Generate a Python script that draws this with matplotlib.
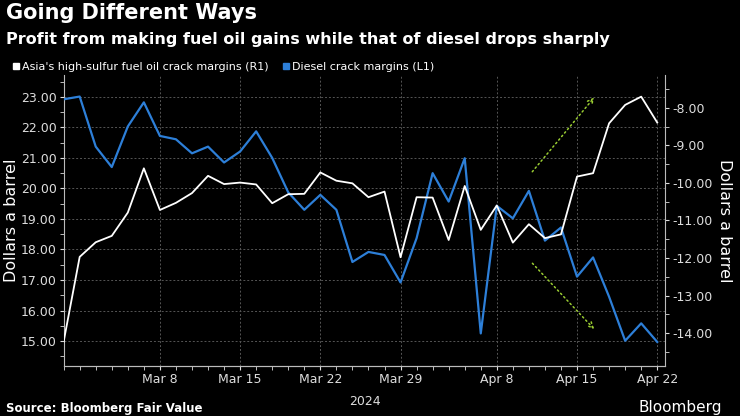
import matplotlib
matplotlib.use("Agg")
import matplotlib.pyplot as plt
from matplotlib.lines import Line2D

diesel = [22.92, 23.01, 21.37, 20.70, 22.03, 22.82, 21.72, 21.61, 21.15, 21.37,
          20.85, 21.21, 21.87, 21.00, 19.87, 19.30, 19.79, 19.30, 17.59, 17.92,
          17.82, 16.92, 18.37, 20.50, 19.57, 20.99, 15.25, 19.43, 19.02, 19.92,
          18.29, 18.72, 17.11, 17.74, 16.45, 15.01, 15.58, 14.97]
hsfo = [-14.23, -11.97, -11.58, -11.41, -10.79, -9.61, -10.72, -10.53, -10.27, -9.81,
        -10.03, -9.99, -10.04, -10.54, -10.30, -10.29, -9.72, -9.94, -10.01, -10.38,
        -10.23, -11.98, -10.38, -10.39, -11.52, -10.08, -11.25, -10.60, -11.59, -11.10,
        -11.47, -11.37, -9.83, -9.74, -8.41, -7.92, -7.70, -8.39]
tick_idx = [6, 11, 16, 21, 27, 32, 37]
tick_labels = ["Mar 8", "Mar 15", "Mar 22", "Mar 29", "Apr 8", "Apr 15", "Apr 22"]
left_ticks = [15, 16, 17, 18, 19, 20, 21, 22, 23]
right_ticks = [-8, -9, -10, -11, -12, -13, -14]

bg = "black"
fig = plt.figure(figsize=(7.4, 4.16), dpi=100, facecolor=bg)
ax = fig.add_axes([0.086, 0.12, 0.813, 0.70], facecolor=bg)
ax2 = ax.twinx()
x = list(range(len(diesel)))
ax.plot(x, diesel, color="#2d7fd8", lw=1.6, zorder=3)
ax2.plot(x, hsfo, color="white", lw=1.3, zorder=3)

ax.set_xlim(0, 37.5)
ax.set_ylim(14.18, 23.72)
ax2.set_ylim(-14.88, -7.12)
ax.set_xticks(tick_idx)
ax.set_xticklabels(tick_labels)
ax.set_xticks(x, minor=True)
ax.set_yticks(left_ticks)
ax.set_yticklabels([f"{v:.2f}" for v in left_ticks])
ax.set_yticks([v + 0.5 for v in range(14, 24)], minor=True)
ax2.set_yticks(right_ticks)
ax2.set_yticklabels([f"{v:.2f}" for v in right_ticks])
ax2.set_yticks([v + 0.5 for v in range(-15, -7)], minor=True)

for a in (ax, ax2):
    for s in a.spines.values():
        s.set_color("#bbbbbb")
    a.spines["top"].set_visible(False)
    a.tick_params(colors="#dddddd", labelsize=9, which="both", length=3, pad=2)
ax.spines["right"].set_visible(False)
ax2.spines["left"].set_visible(False)
ax.grid(True, which="major", color="#555555", ls=(0, (2, 2)), lw=0.7)
ax.set_ylabel("Dollars a barrel", color="white", fontsize=11.5, labelpad=1)
ax2.set_ylabel("Dollars a barrel", color="white", fontsize=11.5, rotation=270, labelpad=14)
ax.text(0.5, -0.1, "2024", transform=ax.transAxes, ha="center", va="top",
        color="#dddddd", fontsize=9)

arrow_kw = dict(arrowstyle="->", color="#9acd32", ls=(0, (1, 2)), lw=1.1)
ax.annotate("", xy=(0.885, 0.93), xytext=(0.776, 0.66), xycoords="axes fraction",
            arrowprops=arrow_kw)
ax.annotate("", xy=(0.885, 0.12), xytext=(0.776, 0.36), xycoords="axes fraction",
            arrowprops=arrow_kw)

fig.text(0.008, 0.955, "Going Different Ways", color="white", fontsize=15, fontweight="bold")
fig.text(0.008, 0.895, "Profit from making fuel oil gains while that of diesel drops sharply",
         color="white", fontsize=11.5, fontweight="bold")
handles = [Line2D([], [], marker="s", ls="none", color="white", markersize=5),
           Line2D([], [], marker="s", ls="none", color="#2d7fd8", markersize=5)]
fig.legend(handles, ["Asia's high-sulfur fuel oil crack margins (R1)", "Diesel crack margins (L1)"],
           loc="upper left", bbox_to_anchor=(0.0, 0.875), ncol=2, frameon=False,
           labelcolor="white", fontsize=8, handletextpad=0.1, columnspacing=1.0,
           handlelength=1)
fig.text(0.008, 0.01, "Source: Bloomberg Fair Value", color="white", fontsize=8.5, fontweight="bold")
fig.text(0.975, 0.01, "Bloomberg", color="white", fontsize=11, ha="right")
fig.savefig("out.png", dpi=100, facecolor=bg)
